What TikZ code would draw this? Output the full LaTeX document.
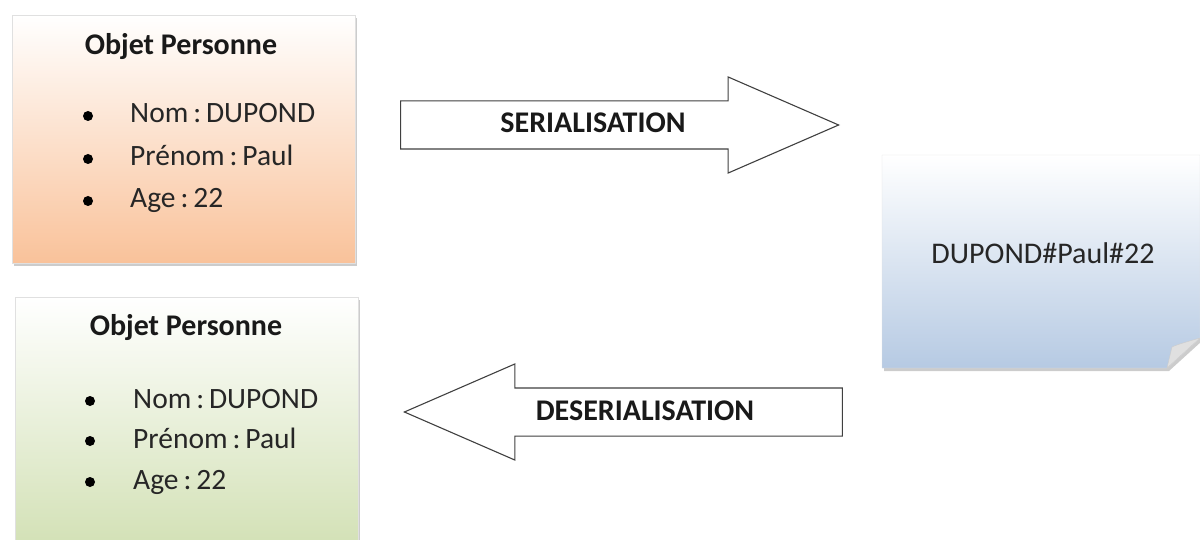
\documentclass[tikz,border=0pt]{standalone}
\usepackage{fontspec}
\setmainfont{Carlito}
\usetikzlibrary{positioning,shapes.arrows,shadows}

\definecolor{peach}{HTML}{F9C29A}
\definecolor{sage}{HTML}{D3E1B6}
\definecolor{skyblue}{HTML}{B6CAE3}

\tikzset{
  objbox/.style={rectangle, draw=black!12, minimum width=343pt, minimum height=248pt,
    drop shadow={shadow xshift=2pt, shadow yshift=-3pt, opacity=0.4}},
  bigarrow/.style={single arrow, draw=black!75, line width=1.1pt, fill=white,
    minimum height=438pt, minimum width=95pt, single arrow head extend=24pt,
    single arrow tip angle=47, inner xsep=0pt, inner ysep=23.5pt, text height=0pt, text depth=0pt},
  title/.style={font=\fontsize{30}{34}\selectfont\bfseries, text=black!90, anchor=base, inner sep=0pt},
  item/.style={font=\fontsize{29.5}{34}\selectfont, text=black!85, anchor=base west, inner sep=0pt},
  dot/.style={circle, fill=black, inner sep=0pt, minimum size=10pt},
  arrowlabel/.style={font=\fontsize{30}{34}\selectfont\bfseries, text=black!90, anchor=base, inner sep=0pt}
}

\begin{document}
\begin{tikzpicture}[x=1pt, y=-1pt]
  \useasboundingbox (0,0) rectangle (1200,540);
  \clip (0,0) rectangle (1200,540);

  % object boxes
  \node (objtop) [objbox, top color=white, bottom color=peach] at (183.5,139) {};
  \node (objbot) [objbox, top color=white, bottom color=sage] at (186.5,421) {};

  % top object
  \node (ttop) [title] at (181,55) {Objet Personne};
  \node (d1) [dot] at (88,116) {};
  \node (d2) [dot] at (88,159) {};
  \node (d3) [dot] at (88,201) {};
  \node (nom1) [item] at (130,123) {Nom\,:\,DUPOND};
  \node (pre1) [item] at (130,166) {Prénom\,:\,Paul};
  \node (age1) [item] at (130,208) {Age\,:\,22};

  % bottom object
  \node (tbot) [title] at (186,335) {Objet Personne};
  \node (e1) [dot] at (90,401) {};
  \node (e2) [dot] at (90,441) {};
  \node (e3) [dot] at (90,482) {};
  \node (nom2) [item] at (133,408) {Nom\,:\,DUPOND};
  \node (pre2) [item] at (133,448) {Prénom\,:\,Paul};
  \node (age2) [item] at (133,489) {Age\,:\,22};

  % serialised note
  \path [top color=white, bottom color=skyblue, draw=black!12,
    drop shadow={shadow xshift=2pt, shadow yshift=-3pt, opacity=0.4}]
    (882,155) -- (1200,155) -- (1200,338) -- (1167,368) -- (882,368) -- cycle;
  \path [fill=black!12, draw=black!20] (1200,338) .. controls (1186,342) and (1176,345) .. (1172,347) -- (1167,368) -- cycle;
  \node (note) [font=\fontsize{30}{34}\selectfont, text=black!85, anchor=base, inner sep=0pt] at (1043,264) {DUPOND\#Paul\#22};

  % arrows
  \node (ser) [bigarrow, anchor=tip] at (840,125) {};
  \node (deser) [bigarrow, shape border rotate=180, anchor=tip] at (403,412) {};
  \node (serlabel) [arrowlabel] at (593,133) {SERIALISATION};
  \node (deserlabel) [arrowlabel] at (645,420) {DESERIALISATION};
\end{tikzpicture}
\end{document}
